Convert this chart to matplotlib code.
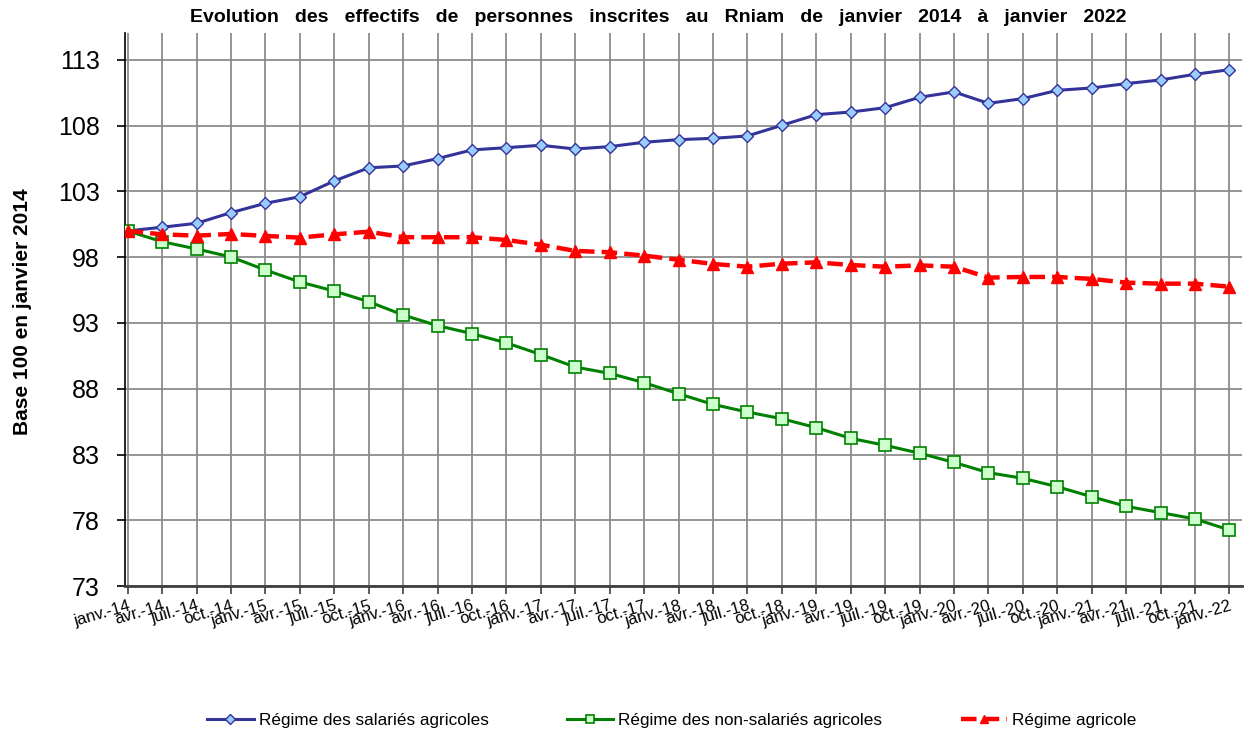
import numpy as np
import matplotlib
matplotlib.use("Agg")
import matplotlib.pyplot as plt

plt.rcParams['font.family'] = ['Liberation Sans', 'DejaVu Sans']

# trimestres de janvier 2014 à janvier 2022
mois = ["janv.", "avr.", "juil.", "oct."]
labels = [f"{mois[i % 4]}-{14 + i // 4}" for i in range(33)]

salaries = [100.0, 100.28, 100.58, 101.39, 102.1, 102.6, 103.8, 104.8, 104.94,
            105.5, 106.16, 106.33, 106.51, 106.23, 106.41, 106.74, 106.94,
            107.04, 107.22, 108.03, 108.84, 109.04, 109.37, 110.16, 110.57,
            109.7, 110.06, 110.69, 110.87, 111.2, 111.48, 111.91, 112.26]

non_salaries = [100.0, 99.18, 98.63, 98.02, 97.03, 96.12, 95.43, 94.62, 93.61,
                92.8, 92.19, 91.49, 90.6, 89.65, 89.17, 88.46, 87.62, 86.81,
                86.23, 85.72, 85.04, 84.23, 83.7, 83.1, 82.4, 81.62, 81.19,
                80.55, 79.79, 79.06, 78.58, 78.1, 77.26]

agricole = [100.0, 99.74, 99.64, 99.77, 99.62, 99.49, 99.74, 99.94, 99.52,
            99.52, 99.52, 99.31, 98.95, 98.48, 98.38, 98.12, 97.81, 97.49,
            97.28, 97.51, 97.61, 97.41, 97.28, 97.38, 97.28, 96.45, 96.5,
            96.5, 96.35, 96.07, 95.99, 95.99, 95.76]

yticks = [73, 78, 83, 88, 93, 98, 103, 108, 113]

x = np.arange(len(labels))

fig = plt.figure(figsize=(12.49, 7.33), dpi=100)
ax = fig.add_axes([0.1, 0.2005, 0.894, 0.7545])

ax.plot(x, salaries, color="#333399", lw=2.2, marker="D", ms=6.5,
        mfc="#99CCFF", mec="#333399", mew=1.0, label="Régime des salariés agricoles", zorder=3)
ax.plot(x, non_salaries, color="#008000", lw=2.2, marker="s", ms=8,
        mfc="#CCFFCC", mec="#008000", mew=1.2, label="Régime des non-salariés agricoles", zorder=3)
ax.plot(x, agricole, color="#FF0000", lw=3.2, ls=(0, (3.5, 1.6)), marker="^", ms=8.5,
        mfc="#FF0000", mec="#FF0000", label="Régime agricole", zorder=4)

ax.set_xlim(-0.08, 32.35)
ax.set_ylim(73, 115.05)
ax.set_yticks(yticks)
ax.set_yticklabels([str(v) for v in yticks], fontsize=18)
ax.set_xticks(x)
ax.set_xticklabels(labels, fontsize=12, rotation=16, ha="right", rotation_mode="anchor")

ax.grid(True, color="#8c8c8c", lw=1.3)
ax.set_axisbelow(True)
for s in ["top", "right"]:
    ax.spines[s].set_visible(False)
ax.spines["left"].set_color("black")
ax.spines["left"].set_linewidth(1.2)
ax.spines["bottom"].set_color("#404040")
ax.spines["bottom"].set_linewidth(2)
ax.tick_params(axis="y", length=6, width=1.2, pad=12)
ax.tick_params(axis="x", length=6, width=1.2, color="#404040", pad=3)

fig.text(658 / 1249, 1 - 17 / 733,
         "Evolution   des   effectifs   de   personnes   inscrites   au   Rniam   de   janvier   2014   à   janvier   2022",
         fontsize=14, fontweight="bold", ha="center", va="center")
fig.text(23 / 1249, 1 - 312 / 733, "Base 100 en janvier 2014", fontsize=15, fontweight="bold",
         rotation=90, ha="center", va="center")

fig.legend(loc="center", bbox_to_anchor=(0.538, 1 - 720 / 733), ncol=3, frameon=False,
           fontsize=12.3, columnspacing=4.6, handlelength=2.7, handletextpad=0.3,
           markerscale=0.75)

fig.savefig("out.png", dpi=100)
